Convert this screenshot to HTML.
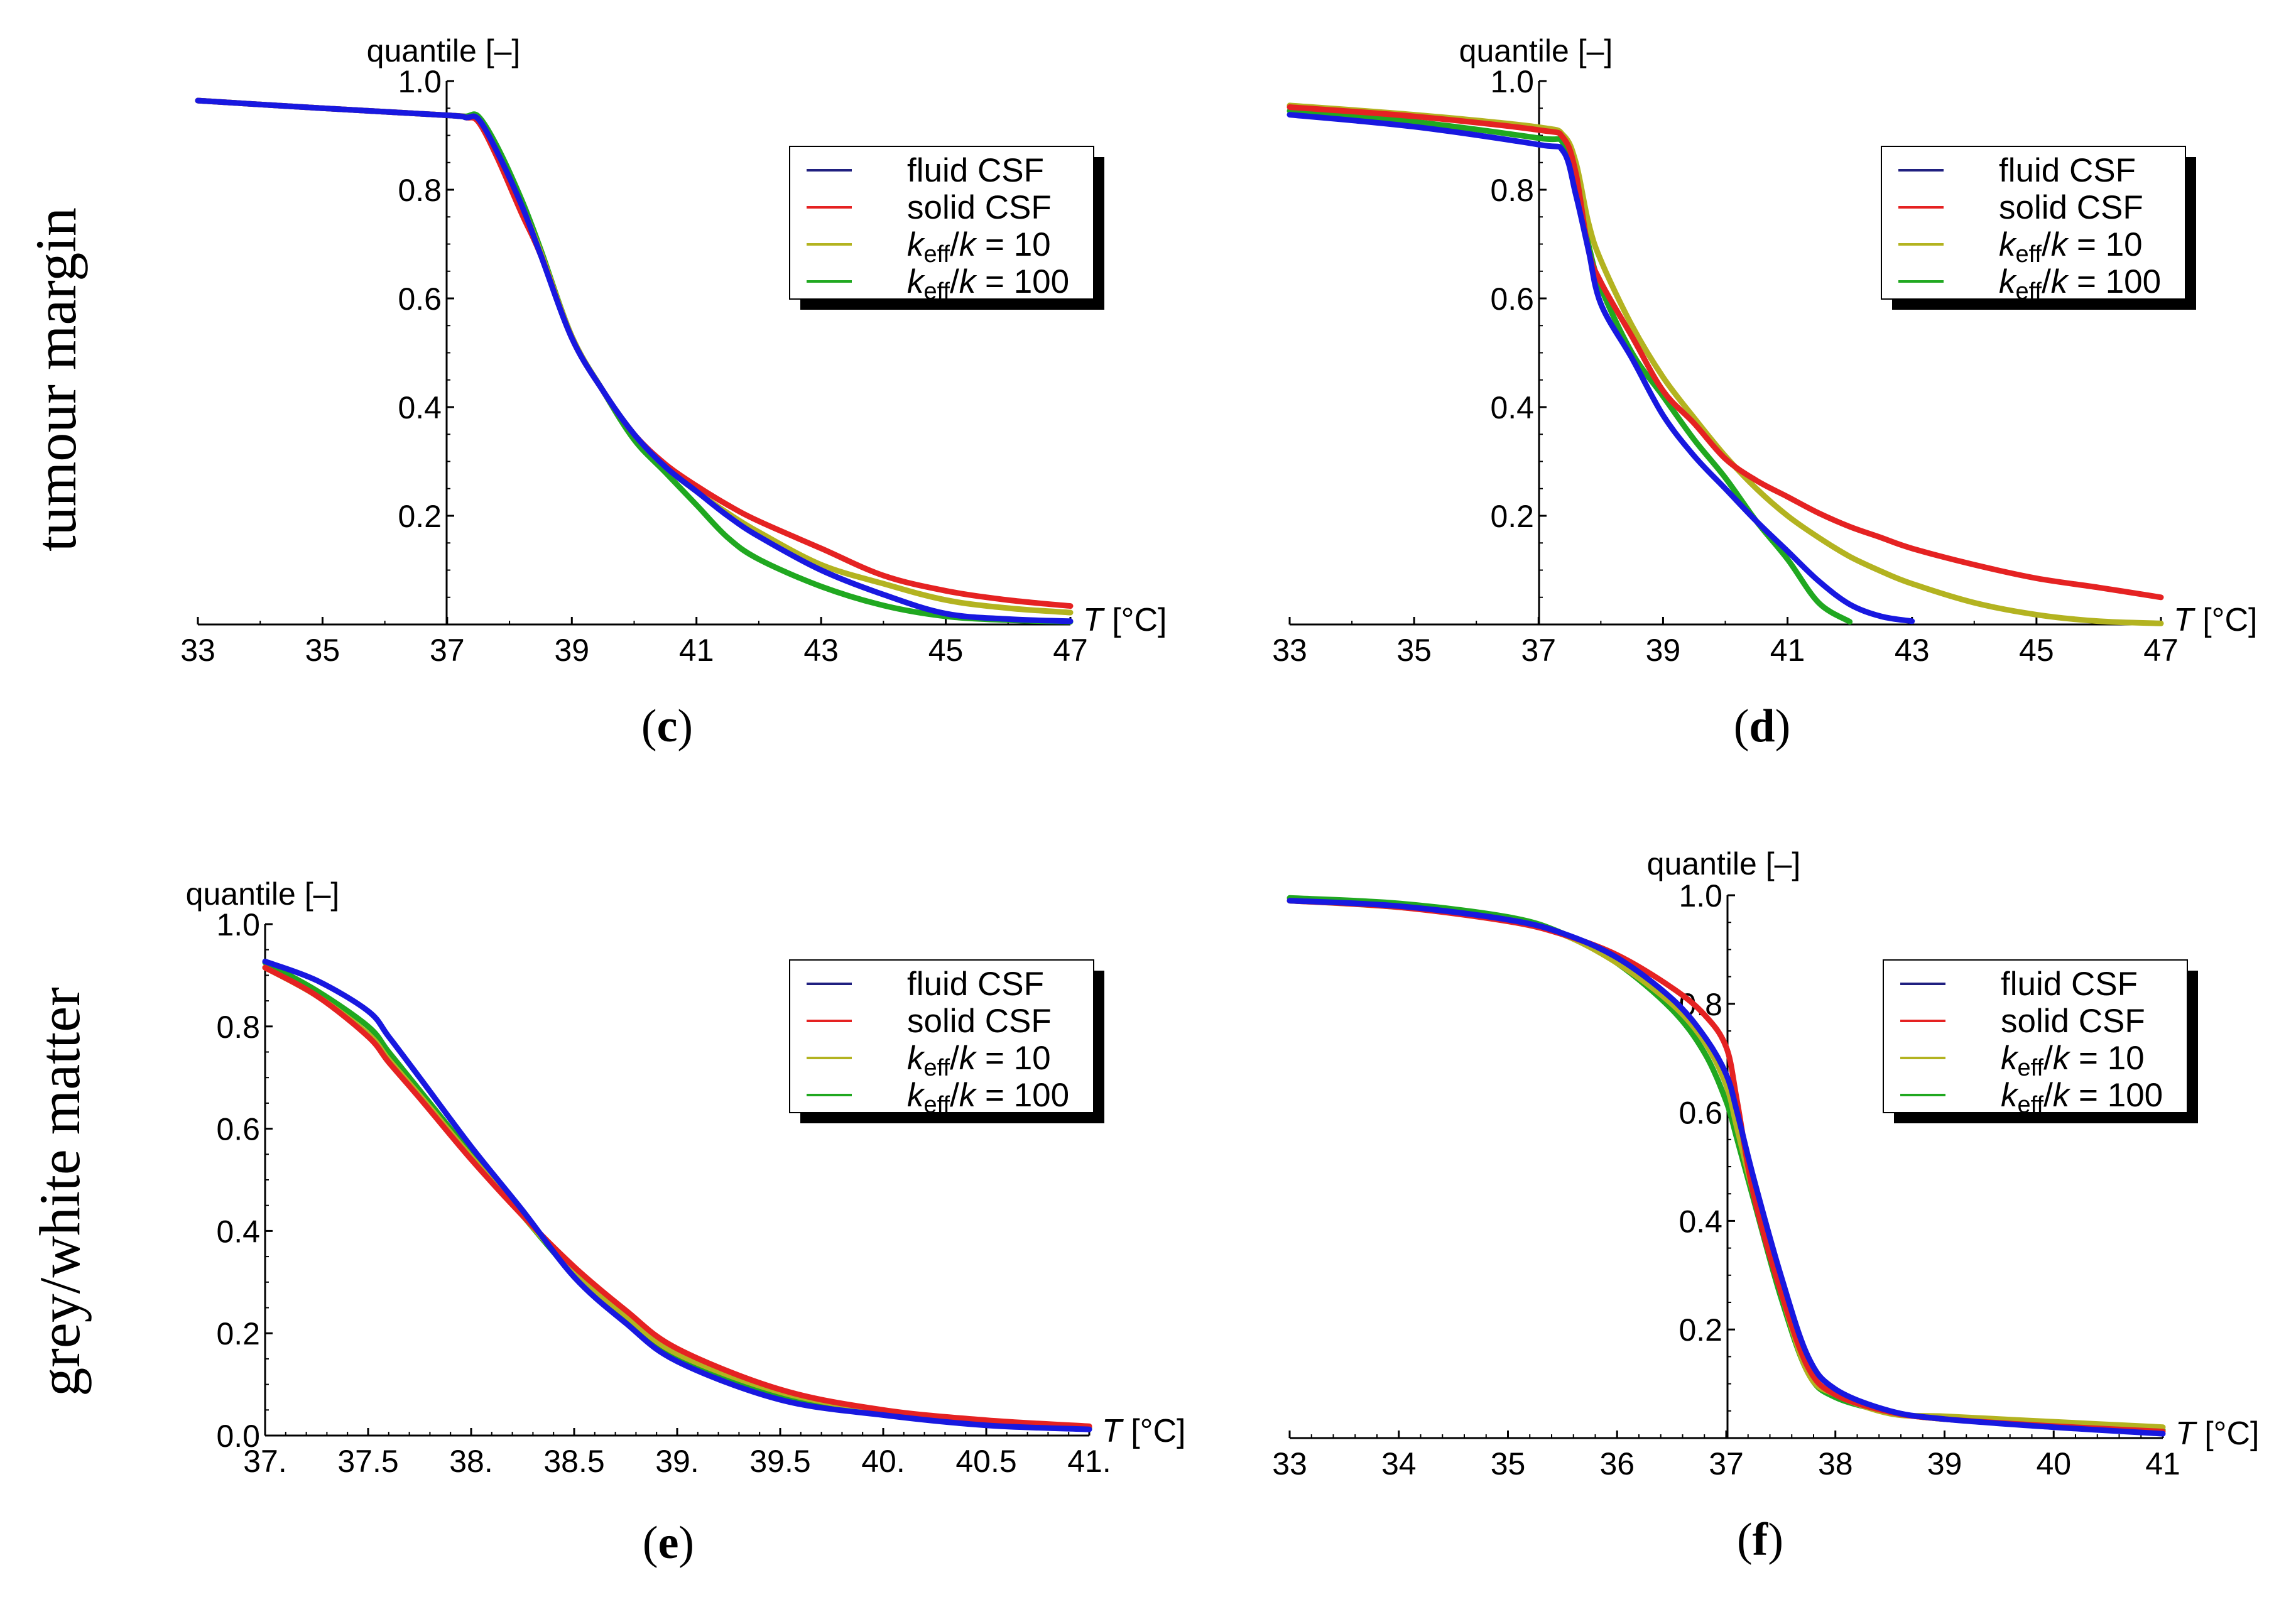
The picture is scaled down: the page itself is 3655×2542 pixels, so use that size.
<!DOCTYPE html>
<html><head><meta charset="utf-8"><style>
html,body{margin:0;padding:0;background:#fff;}
svg{display:block;font-family:"Liberation Sans",sans-serif;}
</style></head><body>
<svg id="fig" width="3655" height="2542" viewBox="0 0 3655 2542" xmlns="http://www.w3.org/2000/svg">
<rect width="3655" height="2542" fill="#fff"/>
<text x="99" y="604" transform="rotate(-90 99 604)" text-anchor="middle" dominant-baseline="middle" font-family="Liberation Serif,serif" font-size="92">tumour margin</text>
<text x="105" y="1897" transform="rotate(-90 105 1897)" text-anchor="middle" dominant-baseline="middle" font-family="Liberation Serif,serif" font-size="92">grey/white matter</text>
</svg>
<script>
// ---- data ----
const seriesNames = ["fluid CSF","solid CSF","k10","k100"];
const seriesColors = ["#1818e0","#e52222","#b3b320","#20a820"];

const cX = [33,35,37,37.3,37.5,37.8,38.2,38.5,39,39.5,40,40.5,41,41.5,42,43,44,45,46,47];
const cBlue  = [0.964,0.95,0.937,0.933,0.93,0.87,0.77,0.68,0.527,0.43,0.35,0.29,0.245,0.2,0.162,0.10,0.055,0.02,0.01,0.006];
const cRed   = [0.964,0.95,0.937,0.933,0.925,0.86,0.755,0.68,0.527,0.43,0.35,0.295,0.255,0.22,0.19,0.14,0.09,0.062,0.045,0.034];
const cYel   = [0.964,0.95,0.937,0.933,0.93,0.87,0.77,0.685,0.53,0.43,0.35,0.29,0.245,0.205,0.17,0.11,0.075,0.045,0.03,0.022];
const cGrn   = [0.964,0.95,0.937,0.935,0.935,0.88,0.78,0.69,0.53,0.43,0.34,0.28,0.22,0.16,0.12,0.07,0.035,0.015,0.008,0.005];

const dX = [33,35,37,37.4,37.6,37.8,38,38.5,39,39.5,40,40.5,41,41.5,42,42.5,43,44,45,46,47];
const dBlue = [0.938,0.916,0.883,0.87,0.79,0.69,0.59,0.49,0.385,0.31,0.25,0.19,0.135,0.08,0.037,0.015,0.006,null,null,null,null];
const dRed  = [0.952,0.935,0.91,0.895,0.83,0.69,0.63,0.53,0.43,0.37,0.305,0.265,0.235,0.205,0.18,0.16,0.14,0.11,0.085,0.068,0.05];
const dYel  = [0.955,0.938,0.915,0.9,0.85,0.74,0.67,0.55,0.455,0.38,0.31,0.25,0.2,0.16,0.125,0.098,0.075,0.04,0.018,0.006,0.002];
const dGrn  = [0.945,0.925,0.895,0.885,0.8,0.70,0.62,0.5,0.42,0.34,0.27,0.19,0.12,0.04,0.005,null,null,null,null,null,null];

const eX = [37,37.25,37.5,37.6,37.75,38,38.25,38.5,38.75,39,39.5,40,40.5,41];
const eBlue = [0.927,0.89,0.83,0.78,0.70,0.565,0.44,0.31,0.22,0.145,0.07,0.04,0.02,0.012];
const eRed  = [0.915,0.86,0.78,0.73,0.66,0.54,0.43,0.33,0.245,0.17,0.09,0.05,0.03,0.018];
const eYel  = [0.915,0.86,0.785,0.735,0.665,0.545,0.43,0.32,0.235,0.16,0.085,0.048,0.028,0.017];
const eGrn  = [0.925,0.87,0.80,0.75,0.675,0.55,0.43,0.315,0.23,0.155,0.08,0.045,0.025,0.015];

const fX = [33,34,35,35.5,36,36.5,36.8,37,37.1,37.25,37.5,37.75,38,38.5,39,40,41];
const fBlue = [0.99,0.98,0.955,0.93,0.885,0.81,0.74,0.67,0.60,0.48,0.30,0.15,0.09,0.05,0.035,0.02,0.008];
const fRed  = [0.99,0.978,0.952,0.928,0.89,0.83,0.78,0.72,0.62,0.45,0.27,0.13,0.08,0.048,0.035,0.022,0.012];
const fYel  = [0.99,0.978,0.955,0.928,0.875,0.80,0.73,0.65,0.57,0.45,0.27,0.12,0.08,0.045,0.04,0.03,0.02];
const fGrn  = [0.995,0.985,0.96,0.93,0.875,0.79,0.71,0.62,0.55,0.44,0.26,0.12,0.075,0.048,0.035,0.025,0.015];

const cTicks = [33,35,37,39,41,43,45,47];
const eTicks = [37,37.5,38,38.5,39,39.5,40,40.5,41];
const eTickLabels = ["37.","37.5","38.","38.5","39.","39.5","40.","40.5","41."];
const fTicks = [33,34,35,36,37,38,39,40,41];
const yTicksTop = [0.2,0.4,0.6,0.8,1.0];
const yTicksE = [0.0,0.2,0.4,0.6,0.8,1.0];
const yTicksF = [0.2,0.4,0.6,0.8,1.0];

const panels = [
 {id:"c",x0:315,x1:1704,xmin:33,xmax:47,ax:711,y0:994,y1:129,xs:cX,ys:[cBlue,cRed,cYel,cGrn],xt:cTicks,xtl:null,yt:yTicksTop,minorX:1,lg:[1257,233],lab:[1062,1180],ql:[706,98]},
 {id:"d",x0:2053,x1:3440,xmin:33,xmax:47,ax:2450,y0:994,y1:129,xs:dX,ys:[dBlue,dRed,dYel,dGrn],xt:cTicks,xtl:null,yt:yTicksTop,minorX:1,lg:[2995,233],lab:[2805,1180],ql:[2445,98]},
 {id:"e",x0:422,x1:1734,xmin:37,xmax:41,ax:422,y0:2285,y1:1471,xs:eX,ys:[eBlue,eRed,eYel,eGrn],xt:eTicks,xtl:eTickLabels,yt:yTicksE,minorX:0.1,lg:[1257,1528],lab:[1064,2480],ql:[418,1440]},
 {id:"f",x0:2053,x1:3443,xmin:33,xmax:41,ax:2750,y0:2289,y1:1425,xs:fX,ys:[fBlue,fRed,fYel,fGrn],xt:fTicks,xtl:null,yt:yTicksF,minorX:0.2,lg:[2998,1528],lab:[2802,2475],ql:[2744,1392]}
];

const NS="http://www.w3.org/2000/svg";
const svg=document.getElementById("fig");
function mk(tag,attrs,parent){const e=document.createElementNS(NS,tag);for(const k in attrs)e.setAttribute(k,attrs[k]);(parent||svg).appendChild(e);return e;}

function pathFrom(pts){
  if(pts.length<2)return "";
  let d="M"+pts[0][0].toFixed(1)+","+pts[0][1].toFixed(1);
  for(let i=0;i<pts.length-1;i++){
    const p0=pts[Math.max(0,i-1)],p1=pts[i],p2=pts[i+1],p3=pts[Math.min(pts.length-1,i+2)];
    const c1x=p1[0]+(p2[0]-p0[0])/6,c1y=p1[1]+(p2[1]-p0[1])/6;
    const c2x=p2[0]-(p3[0]-p1[0])/6,c2y=p2[1]-(p3[1]-p1[1])/6;
    d+=" C"+c1x.toFixed(1)+","+c1y.toFixed(1)+" "+c2x.toFixed(1)+","+c2y.toFixed(1)+" "+p2[0].toFixed(1)+","+p2[1].toFixed(1);
  }
  return d;
}

panels.forEach(p=>{
  const g=mk("g",{});
  
  
  const sx=v=>p.x0+(v-p.xmin)/(p.xmax-p.xmin)*(p.x1-p.x0);
  const sy=v=>p.y0+v*(p.y1-p.y0);
  const xa=mk("line",{x1:p.x0,y1:p.y0,x2:p.x1,y2:p.y0,stroke:"#000","stroke-width":3},g);
  
  
  for(let v=p.xmin;v<=p.xmax+1e-9;v+=p.minorX){
    mk("line",{x1:sx(v),y1:p.y0,x2:sx(v),y2:p.y0-6,stroke:"#000","stroke-width":2},g);
  }
  p.xt.forEach((v,i)=>{
    mk("line",{x1:sx(v),y1:p.y0,x2:sx(v),y2:p.y0-12,stroke:"#000","stroke-width":3},g);
    const t=mk("text",{x:sx(v),y:p.y0+58,"text-anchor":"middle","font-size":50},g);
    t.textContent=p.xtl?p.xtl[i]:String(v);
    
    
  });
  const ya=mk("line",{x1:p.ax,y1:p.y0,x2:p.ax,y2:p.y1,stroke:"#000","stroke-width":3},g);
  
  
  for(let v=0.05;v<=1.0001;v+=0.05){
    mk("line",{x1:p.ax,y1:sy(v),x2:p.ax+6,y2:sy(v),stroke:"#000","stroke-width":2},g);
  }
  p.yt.forEach(v=>{
    mk("line",{x1:p.ax,y1:sy(v),x2:p.ax+12,y2:sy(v),stroke:"#000","stroke-width":3},g);
    const t=mk("text",{x:p.ax-8,y:sy(v)+18,"text-anchor":"end","font-size":50},g);
    t.textContent=v.toFixed(1);
    
    
  });
  const ql=mk("text",{x:p.ql[0],y:p.ql[1],"text-anchor":"middle","font-size":50},g);
  ql.textContent="quantile [\u2013]";
  
  
  const xl=mk("text",{x:p.x1+20,y:p.y0+10,"font-size":52},g);
  xl.innerHTML='<tspan font-style="italic">T</tspan> [°C]';
  
  
  [3,2,1,0].forEach(si=>{
    const pts=[];
    p.xs.forEach((x,i)=>{const y=p.ys[si][i];if(y!==null&&y!==undefined)pts.push([sx(x),sy(y)]);});
    const path=mk("path",{d:pathFrom(pts),fill:"none",stroke:seriesColors[si],"stroke-width":9,"stroke-linejoin":"round","stroke-linecap":"round"},g);
    
    
  });
  const lx=p.lg[0],ly=p.lg[1],lw=484,lh=243;
  const lgG=mk("g",{},g);
  
  
  mk("rect",{x:lx+17,y:ly+17,width:lw,height:lh,fill:"#000"},lgG);
  mk("rect",{x:lx,y:ly,width:lw,height:lh,fill:"#fff",stroke:"#000","stroke-width":2},lgG);
  const labels=['fluid CSF','solid CSF','<tspan font-style="italic">k</tspan><tspan font-size="38" dy="10">eff</tspan><tspan dy="-10">/</tspan><tspan font-style="italic">k</tspan> = 10','<tspan font-style="italic">k</tspan><tspan font-size="38" dy="10">eff</tspan><tspan dy="-10">/</tspan><tspan font-style="italic">k</tspan> = 100'];
  const lcol=["#202080","#e52222","#b3b320","#20a820"];
  labels.forEach((l,i)=>{
    const cy=ly+38+i*59;
    const ln=mk("line",{x1:lx+27,y1:cy,x2:lx+99,y2:cy,stroke:lcol[i],"stroke-width":4},lgG);
    
    
    const t=mk("text",{x:lx+187,y:cy+18,"font-size":53},lgG);
    t.innerHTML=l;
    
    
  });
  const pl=mk("text",{x:p.lab[0],y:p.lab[1],"text-anchor":"middle","font-size":74,"font-family":"Liberation Serif,serif"},g);
  pl.innerHTML='(<tspan font-weight="bold">'+p.id+'</tspan>)';
  
  
});
</script>
</body></html>
